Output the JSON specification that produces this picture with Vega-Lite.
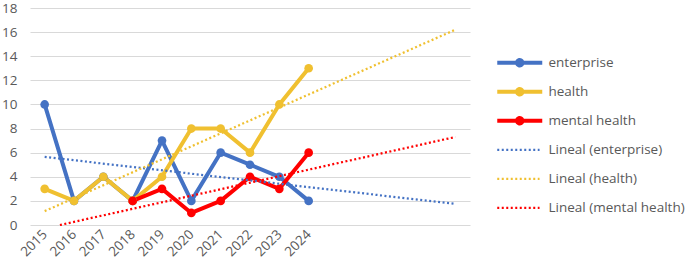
{
  "$schema": "https://vega.github.io/schema/vega-lite/v6.json",
  "width": 440,
  "height": 217,
  "autosize": {"type": "none"},
  "padding": {"left": 30, "top": 8, "right": 215, "bottom": 42},
  "background": "white",
  "config": {
    "view": {"stroke": null},
    "font": "Open Sans"
  },
  "datasets": {
    "main": [
      {"x": 1, "value": 10, "series": "enterprise"},
      {"x": 2, "value": 2, "series": "enterprise"},
      {"x": 3, "value": 4, "series": "enterprise"},
      {"x": 4, "value": 2, "series": "enterprise"},
      {"x": 5, "value": 7, "series": "enterprise"},
      {"x": 6, "value": 2, "series": "enterprise"},
      {"x": 7, "value": 6, "series": "enterprise"},
      {"x": 8, "value": 5, "series": "enterprise"},
      {"x": 9, "value": 4, "series": "enterprise"},
      {"x": 10, "value": 2, "series": "enterprise"},
      {"x": 1, "value": 3, "series": "health"},
      {"x": 2, "value": 2, "series": "health"},
      {"x": 3, "value": 4, "series": "health"},
      {"x": 4, "value": 2, "series": "health"},
      {"x": 5, "value": 4, "series": "health"},
      {"x": 6, "value": 8, "series": "health"},
      {"x": 7, "value": 8, "series": "health"},
      {"x": 8, "value": 6, "series": "health"},
      {"x": 9, "value": 10, "series": "health"},
      {"x": 10, "value": 13, "series": "health"},
      {"x": 4, "value": 2, "series": "mental health"},
      {"x": 5, "value": 3, "series": "mental health"},
      {"x": 6, "value": 1, "series": "mental health"},
      {"x": 7, "value": 2, "series": "mental health"},
      {"x": 8, "value": 4, "series": "mental health"},
      {"x": 9, "value": 3, "series": "mental health"},
      {"x": 10, "value": 6, "series": "mental health"}
    ],
    "trend": [
      {"x": 1, "value": 5.65, "series": "Lineal (enterprise)"},
      {"x": 15, "value": 1.75, "series": "Lineal (enterprise)"},
      {"x": 1, "value": 1.15, "series": "Lineal (health)"},
      {"x": 15, "value": 16.2, "series": "Lineal (health)"},
      {"x": 1.52, "value": 0, "series": "Lineal (mental health)"},
      {"x": 15, "value": 7.3, "series": "Lineal (mental health)"}
    ]
  },
  "encoding": {
    "x": {
      "field": "x",
      "type": "quantitative",
      "scale": {"domain": [0.5, 15.5], "nice": false, "zero": false},
      "axis": {
        "title": null,
        "values": [1, 2, 3, 4, 5, 6, 7, 8, 9, 10],
        "labelExpr": "datum.value + 2014",
        "labelAngle": -45,
        "labelAlign": "right",
        "labelBaseline": "middle",
        "labelPadding": 7,
        "labelFontSize": 13.5,
        "labelColor": "#595959",
        "labelFont": "Open Sans",
        "grid": false,
        "ticks": false,
        "tickSize": 0,
        "domain": false,
        "labelOverlap": false,
        "labelFlush": false
      }
    },
    "y": {
      "field": "value",
      "type": "quantitative",
      "scale": {"domain": [0, 18], "nice": false},
      "axis": {
        "title": null,
        "values": [0, 2, 4, 6, 8, 10, 12, 14, 16, 18],
        "labelFontSize": 13.5,
        "labelColor": "#595959",
        "labelFont": "Open Sans",
        "labelPadding": 13,
        "ticks": false,
        "tickSize": 0,
        "domain": false,
        "grid": true,
        "gridColor": "#D9D9D9",
        "gridWidth": 1,
        "labelOverlap": false
      }
    },
    "color": {
      "field": "series",
      "type": "nominal",
      "scale": {
        "domain": ["enterprise", "health", "mental health", "Lineal (enterprise)", "Lineal (health)", "Lineal (mental health)"],
        "range": ["#4472C4", "#F0C030", "#FF0000", "#4472C4", "#F0C030", "#FF0000"]
      },
      "legend": {
        "title": null,
        "orient": "none",
        "legendX": 483,
        "legendY": 48,
        "padding": 0,
        "symbolSize": 324,
        "gridAlign": "all",
        "rowPadding": 7,
        "labelOffset": 22,
        "labelFont": "Open Sans",
        "labelFontSize": 13.5,
        "labelColor": "#595959",
        "labelLimit": 300,
        "encode": {
          "symbols": {
            "update": {
              "shape": {"signal": "indexof(['enterprise','health','mental health'], datum.value) >= 0 ? 'M-2.5,0H2.5M0.3,0A0.3,0.3 0 1 1 -0.3,0A0.3,0.3 0 1 1 0.3,0' : 'M-2.5,0H2.2'"},
              "fill": {"signal": "indexof(['enterprise','health','mental health'], datum.value) >= 0 ? scale('color', datum.value) : 'transparent'"},
              "stroke": {"signal": "scale('color', datum.value)"},
              "strokeWidth": {"signal": "indexof(['enterprise','health','mental health'], datum.value) >= 0 ? 4 : 2.25"},
              "strokeDash": {"signal": "indexof(['enterprise','health','mental health'], datum.value) >= 0 ? [1, 0] : [2, 2.5]"},
              "opacity": {"value": 1}
            }
          }
        }
      }
    }
  },
  "layer": [
    {
      "data": {"name": "main"},
      "mark": {"type": "line", "strokeWidth": 4, "strokeJoin": "round", "strokeCap": "round"}
    },
    {
      "data": {"name": "main"},
      "mark": {"type": "point", "filled": true, "shape": "circle", "size": 75, "opacity": 1}
    },
    {
      "data": {"name": "trend"},
      "mark": {"type": "line", "strokeWidth": 2.25, "strokeDash": [2, 2.5], "strokeCap": "butt"}
    }
  ]
}
